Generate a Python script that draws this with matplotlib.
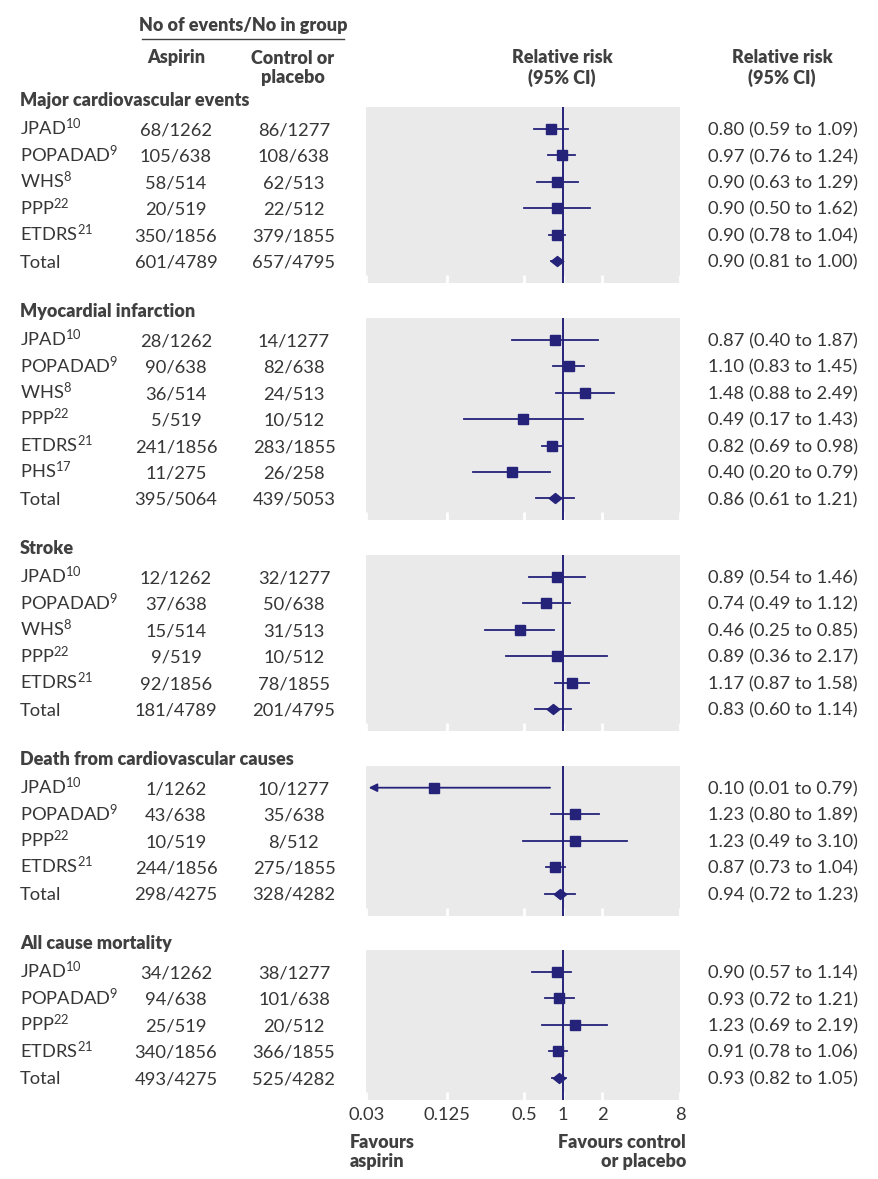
import matplotlib
matplotlib.use("Agg")
import matplotlib.pyplot as plt
from matplotlib.path import Path
from matplotlib.lines import Line2D
from matplotlib.ticker import NullLocator
from matplotlib.transforms import blended_transform_factory

plt.rcParams['font.family'] = ['Lato', 'DejaVu Sans']
plt.rcParams['mathtext.fontset'] = 'custom'
plt.rcParams['mathtext.rm'] = 'Lato'
plt.rcParams['mathtext.it'] = 'Lato:italic'
plt.rcParams['mathtext.bf'] = 'Lato:bold'

# ---- data ----
outcomes = ["Major cardiovascular events", "Myocardial infarction", "Stroke",
            "Death from cardiovascular causes", "All cause mortality"]

mace_names = ["JPAD", "POPADAD", "WHS", "PPP", "ETDRS", "Total"]
mace_refs = ["10", "9", "8", "22", "21", ""]
mace_aspirin = ["68/1262", "105/638", "58/514", "20/519", "350/1856", "601/4789"]
mace_control = ["86/1277", "108/638", "62/513", "22/512", "379/1855", "657/4795"]
mace_rr = [0.80, 0.97, 0.90, 0.90, 0.90, 0.90]
mace_lo = [0.59, 0.76, 0.63, 0.50, 0.78, 0.81]
mace_hi = [1.09, 1.24, 1.29, 1.62, 1.04, 1.00]

mi_names = ["JPAD", "POPADAD", "WHS", "PPP", "ETDRS", "PHS", "Total"]
mi_refs = ["10", "9", "8", "22", "21", "17", ""]
mi_aspirin = ["28/1262", "90/638", "36/514", "5/519", "241/1856", "11/275", "395/5064"]
mi_control = ["14/1277", "82/638", "24/513", "10/512", "283/1855", "26/258", "439/5053"]
mi_rr = [0.87, 1.10, 1.48, 0.49, 0.82, 0.40, 0.86]
mi_lo = [0.40, 0.83, 0.88, 0.17, 0.69, 0.20, 0.61]
mi_hi = [1.87, 1.45, 2.49, 1.43, 0.98, 0.79, 1.21]

stroke_names = ["JPAD", "POPADAD", "WHS", "PPP", "ETDRS", "Total"]
stroke_refs = ["10", "9", "8", "22", "21", ""]
stroke_aspirin = ["12/1262", "37/638", "15/514", "9/519", "92/1856", "181/4789"]
stroke_control = ["32/1277", "50/638", "31/513", "10/512", "78/1855", "201/4795"]
stroke_rr = [0.89, 0.74, 0.46, 0.89, 1.17, 0.83]
stroke_lo = [0.54, 0.49, 0.25, 0.36, 0.87, 0.60]
stroke_hi = [1.46, 1.12, 0.85, 2.17, 1.58, 1.14]

cvd_names = ["JPAD", "POPADAD", "PPP", "ETDRS", "Total"]
cvd_refs = ["10", "9", "22", "21", ""]
cvd_aspirin = ["1/1262", "43/638", "10/519", "244/1856", "298/4275"]
cvd_control = ["10/1277", "35/638", "8/512", "275/1855", "328/4282"]
cvd_rr = [0.10, 1.23, 1.23, 0.87, 0.94]
cvd_lo = [0.01, 0.80, 0.49, 0.73, 0.72]
cvd_hi = [0.79, 1.89, 3.10, 1.04, 1.23]

acm_names = ["JPAD", "POPADAD", "PPP", "ETDRS", "Total"]
acm_refs = ["10", "9", "22", "21", ""]
acm_aspirin = ["34/1262", "94/638", "25/519", "340/1856", "493/4275"]
acm_control = ["38/1277", "101/638", "20/512", "366/1855", "525/4282"]
acm_rr = [0.90, 0.93, 1.23, 0.91, 0.93]
acm_lo = [0.57, 0.72, 0.69, 0.78, 0.82]
acm_hi = [1.14, 1.21, 2.19, 1.06, 1.05]

tick_values = [0.03, 0.125, 0.5, 1, 2, 8]
tick_labels = ["0.03", "0.125", "0.5", "1", "2", "8"]

sections = [
    (mace_names, mace_refs, mace_aspirin, mace_control, mace_rr, mace_lo, mace_hi),
    (mi_names, mi_refs, mi_aspirin, mi_control, mi_rr, mi_lo, mi_hi),
    (stroke_names, stroke_refs, stroke_aspirin, stroke_control, stroke_rr, stroke_lo, stroke_hi),
    (cvd_names, cvd_refs, cvd_aspirin, cvd_control, cvd_rr, cvd_lo, cvd_hi),
    (acm_names, acm_refs, acm_aspirin, acm_control, acm_rr, acm_lo, acm_hi),
]

# ---- layout / style ----
W, H = 879, 1179
NAVY = '#25227a'
TEXT = '#363636'
HEAD = '#404040'
PANEL = '#eaeaea'
FS = 13.2      # regular text
FSB = 13.0     # bold headings
ROW = 26.45
XMIN, XMAX = 0.03, 8

diamond = Path([(-1, 0), (0, 0.8), (1, 0), (0, -0.8), (-1, 0)],
               [Path.MOVETO, Path.LINETO, Path.LINETO, Path.LINETO, Path.CLOSEPOLY])

fig = plt.figure(figsize=(W / 100, H / 100), dpi=100)


def fx(px):
    return px / W


def fy(py):
    return 1 - py / H


# column headers
fig.text(fx(243), fy(25), "No of events/No in group", ha='center', va='center',
         fontsize=FSB, weight='heavy', color=HEAD)
fig.add_artist(Line2D([fx(142), fx(344)], [fy(39), fy(39)], color=HEAD, lw=1))
fig.text(fx(176), fy(58), "Aspirin", ha='center', va='center', fontsize=FSB,
         weight='heavy', color=HEAD)
fig.text(fx(293), fy(68), "Control or\nplacebo", ha='center', va='center',
         fontsize=FSB, weight='heavy', color=HEAD, linespacing=1.2)
fig.text(fx(562), fy(68), "Relative risk\n(95% CI)", ha='center', va='center',
         fontsize=FSB, weight='heavy', color=HEAD, linespacing=1.2)
fig.text(fx(782), fy(68), "Relative risk\n(95% CI)", ha='center', va='center',
         fontsize=FSB, weight='heavy', color=HEAD, linespacing=1.2)

title_y = 100
for k, (names, refs, asp, ctl, rr, lo, hi) in enumerate(sections):
    n = len(names)
    first = title_y + 29
    last = first + (n - 1) * ROW
    top, bottom = first - 22, last + 22
    ax = fig.add_axes([fx(366.5), fy(bottom), fx(680) - fx(366.5), (bottom - top) / H])
    ax.set_facecolor(PANEL)
    ax.set_xscale('log')
    ax.set_xlim(XMIN, XMAX)
    ax.set_ylim(n - 1 + 22 / ROW, -22 / ROW)
    for s in ax.spines.values():
        s.set_visible(False)
    ax.set_yticks([])
    ax.xaxis.set_minor_locator(NullLocator())
    ax.set_xticks(tick_values, tick_labels if k == len(sections) - 1 else [])
    ax.tick_params(axis='x', direction='in', length=6, width=2, color='white',
                   pad=5, labelsize=FS, labelcolor=TEXT)
    ax.axvline(1, color=NAVY, lw=1.4, zorder=3)

    for i in range(n):
        is_total = names[i] == "Total"
        if lo[i] < XMIN:
            # CI runs off the scale: arrow to the left edge
            ax.annotate('', xy=(XMIN * 1.04, i), xytext=(hi[i], i),
                        arrowprops=dict(arrowstyle='-|>', color=NAVY, lw=1.3,
                                        mutation_scale=12, shrinkA=0, shrinkB=0),
                        zorder=4)
        else:
            ax.plot([lo[i], hi[i]], [i, i], color=NAVY, lw=1.3, zorder=4)
        if is_total:
            ax.plot(rr[i], i, marker=diamond, ms=9, color=NAVY, zorder=5)
        else:
            ax.plot(rr[i], i, marker='s', ms=7.8, color=NAVY, zorder=5)

    trans = blended_transform_factory(fig.transFigure, ax.transData)
    ax.text(fx(20), -29 / ROW + 6 / ROW, outcomes[k], transform=trans, ha='left',
            va='baseline', fontsize=FSB, weight='heavy', color=HEAD)
    for i in range(n):
        yb = i + 6.5 / ROW
        label = names[i] + (r"$^{\mathrm{%s}}$" % refs[i] if refs[i] else "")
        ax.text(fx(20), yb, label, transform=trans, ha='left', va='baseline',
                fontsize=FS, color=TEXT)
        ax.text(fx(176), yb, asp[i], transform=trans, ha='center', va='baseline',
                fontsize=FS, color=TEXT)
        ax.text(fx(294), yb, ctl[i], transform=trans, ha='center', va='baseline',
                fontsize=FS, color=TEXT)
        ax.text(fx(708), yb, "%.2f (%.2f to %.2f)" % (rr[i], lo[i], hi[i]),
                transform=trans, ha='left', va='baseline', fontsize=FS, color=TEXT)

    title_y = last + 49.5

fig.text(fx(350), fy(1152), "Favours\naspirin", ha='left', va='center',
         fontsize=FSB, weight='heavy', color=HEAD, linespacing=1.15)
fig.text(fx(686), fy(1152), "Favours control\nor placebo", ha='right', va='center',
         fontsize=FSB, weight='heavy', color=HEAD, linespacing=1.15,
         multialignment='right')

fig.savefig('out.png', dpi=100)
